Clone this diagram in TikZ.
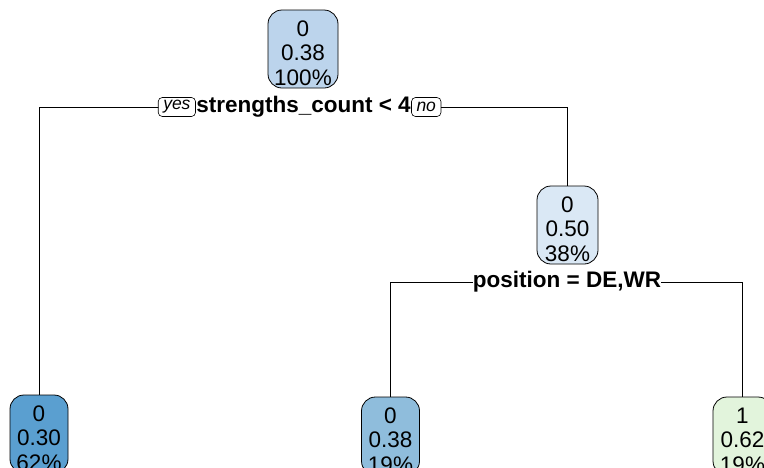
\documentclass[tikz,border=0pt]{standalone}
\usepackage{fontspec}
\setmainfont{Liberation Sans}
\usetikzlibrary{backgrounds}
\definecolor{cRoot}{HTML}{BCD4EC}
\definecolor{cMid}{HTML}{DAE8F5}
\definecolor{cDark}{HTML}{5A9FD0}
\definecolor{cMed}{HTML}{8FBDDC}
\definecolor{cGreen}{HTML}{E2F4DC}
\newcommand{\leaftext}[3]{\raisebox{-6.6pt}[\height][\depth]{\begin{tabular}{@{}c@{}}#1\\#2\\#3\end{tabular}}}
\tikzset{
  leafbox/.style={draw=black, line width=0.8pt, rounded corners=14pt, inner sep=0pt,
    font=\fontsize{22.5}{24.5}\selectfont},
  splitlab/.style={fill=white, inner sep=0.3pt, font=\fontsize{22.5}{24}\selectfont\bfseries},
  yn/.style={draw=black, fill=white, rounded corners=4pt, inner xsep=5pt, inner ysep=0pt, line width=0.6pt,
    font=\fontsize{17.5}{18}\selectfont\itshape, minimum height=19pt},
  conn/.style={draw=black, line width=0.8pt}
}
\begin{document}
\begin{tikzpicture}[x=1pt,y=-1pt]
\useasboundingbox (0,0) rectangle (764,467);
\clip (0,0) rectangle (764,467);
\node[leafbox, fill=cRoot, minimum width=70pt, minimum height=78pt] (root) at (303,49) {\leaftext{0}{0.38}{100\%}};
\node[splitlab] (s1) at (303.5,107) {strengths\_count < 4};
\node[yn, anchor=east] (yes) at (s1.west) {yes};
\node[yn, anchor=west] (no) at (s1.east) {no};
\node[leafbox, fill=cDark, minimum width=58pt, minimum height=78pt] (n2) at (39,434) {\leaftext{0}{0.30}{62\%}};
\node[leafbox, fill=cMid, minimum width=61pt, minimum height=78pt] (n3) at (567.5,225) {\leaftext{0}{0.50}{38\%}};
\node[splitlab] (s3) at (567,282) {position = DE,WR};
\node[leafbox, fill=cMed, minimum width=58pt, minimum height=78pt] (n6) at (390.5,436) {\leaftext{0}{0.38}{19\%}};
\node[leafbox, fill=cGreen, minimum width=59pt, minimum height=78pt] (n7) at (742.5,436) {\leaftext{1}{0.62}{19\%}};
\begin{scope}[on background layer]
\draw[conn] (n2.north) |- (s1.center) -| (n3.north);
\draw[conn] (n6.north) |- (s3.center) -| (n7.north);
\end{scope}
\end{tikzpicture}
\end{document}
